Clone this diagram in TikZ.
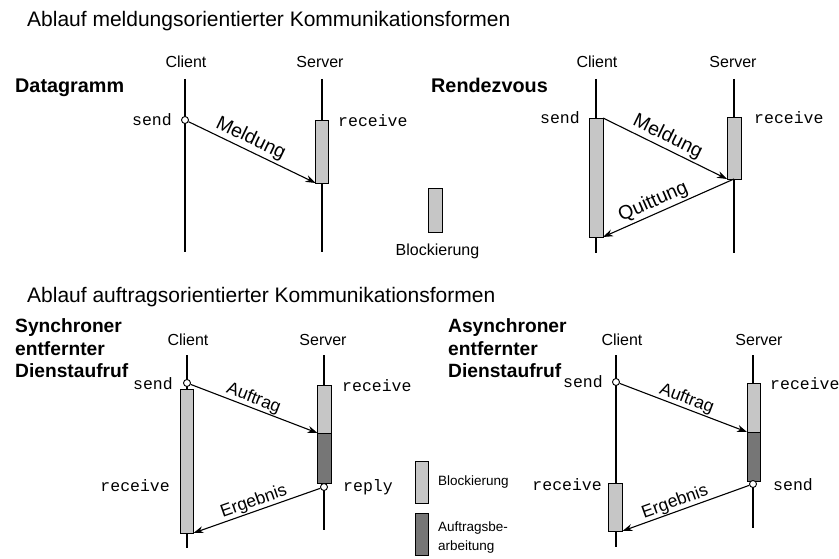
\documentclass[tikz,border=0pt]{standalone}
\usepackage{fontspec}
\setmainfont{Liberation Sans}
\setmonofont{Liberation Mono}
\usetikzlibrary{arrows.meta}
\definecolor{blockfill}{RGB}{198,198,198}
\definecolor{workfill}{RGB}{118,118,118}

\begin{document}
\begin{tikzpicture}[x=1pt,y=-1pt,
  life/.style={line width=1.4pt},
  msg/.style={line width=1.1pt,-{Stealth[length=10pt,width=7pt]}},
  title/.style={font=\fontsize{21}{24}\selectfont,inner sep=0,anchor=base west},
  head/.style={font=\fontsize{19.8}{22.5}\selectfont\bfseries,align=left,inner sep=0},
  headlow/.style={head,font=\fontsize{19.2}{22.5}\selectfont\bfseries},
  role/.style={font=\fontsize{16}{18}\selectfont,inner sep=0,anchor=base},
  mono/.style={font=\fontsize{16.5}{18}\selectfont\ttfamily,inner sep=0},
  blk/.style={draw,line width=0.9pt,fill=blockfill,inner sep=0,outer sep=0},
  work/.style={blk,fill=workfill},
  port/.style={circle,draw,fill=white,line width=0.9pt,minimum size=7pt,inner sep=0},
  tagbig/.style={sloped,above,inner sep=2pt,font=\fontsize{19.5}{22}\selectfont},
  tagsmall/.style={sloped,above,inner sep=0.5pt,font=\fontsize{17.5}{20}\selectfont},
  legend/.style={font=\fontsize{13.5}{19}\selectfont,align=left,inner sep=0}
]
\useasboundingbox (0,0) rectangle (839,559);

% ---------- section titles ----------
\node[title] (t1) at (27,27) {Ablauf meldungsorientierter Kommunikationsformen};
\node[title] (t2) at (27,302) {Ablauf auftragsorientierter Kommunikationsformen};

% ---------- Datagramm ----------
\node[head,anchor=base west] (dhead) at (15,93) {Datagramm};
\coordinate (dc1) at (185,79);  \coordinate (dc2) at (185,252);
\coordinate (ds1) at (322,79);  \coordinate (ds2) at (322,252);
\draw[life] (dc1) -- (dc2);
\draw[life] (ds1) -- (ds2);
\node[role] (dcl) at (186,68) {Client};
\node[role] (dsl) at (320,68) {Server};
\node[port] (dsnd) at (185,120) {};
\node[blk,minimum width=13pt,minimum height=63pt] (dsb) at (322,151.5) {};
\node[mono,anchor=base east] (dsndt) at (172,126) {send};
\node[mono,anchor=base west] (drcvt) at (338,127) {receive};
\draw[msg] (dsnd) -- (dsb.south west) node[tagbig,pos=0.45] {Meldung};

% ---------- Rendezvous ----------
\node[head,anchor=base west] (rhead) at (431,93) {Rendezvous};
\coordinate (rc1) at (596,79);  \coordinate (rc2) at (596,253);
\coordinate (rs1) at (734,79);  \coordinate (rs2) at (734,253);
\draw[life] (rc1) -- (rc2);
\draw[life] (rs1) -- (rs2);
\node[role] (rcl) at (597,68) {Client};
\node[role] (rsl) at (733,68) {Server};
\node[blk,minimum width=14pt,minimum height=119pt] (rcb) at (596,177.5) {};
\node[blk,minimum width=14pt,minimum height=62pt] (rsb) at (734,148) {};
\node[mono,anchor=base east] (rsndt) at (580,123.5) {send};
\node[mono,anchor=base west] (rrcvt) at (754,124) {receive};
\draw[msg] (rcb.north east) -- (rsb.south west) node[tagbig,pos=0.48] {Meldung};
\draw[msg] (rsb.south) -- (rcb.south east) node[tagbig,pos=0.58] {Quittung};

% ---------- legend (upper) ----------
\node[blk,minimum width=14pt,minimum height=44pt] (lgb) at (435,210) {};
\node[role] (lgt) at (437.5,255) {Blockierung};

% ---------- Synchroner entfernter Dienstaufruf ----------
\node[headlow,anchor=north west] (shead) at (15,318.5) {Synchroner\\entfernter\\Dienstaufruf};
\coordinate (sc1) at (187,355);  \coordinate (sc2) at (187,548);
\coordinate (ss1) at (324,355);  \coordinate (ss2) at (324,530);
\draw[life] (sc1) -- (sc2);
\draw[life] (ss1) -- (ss2);
\node[role] (scl) at (188,345) {Client};
\node[role] (ssl) at (323,345) {Server};
\node[blk,minimum width=13pt,minimum height=144pt] (scb) at (187,461) {};
\node[blk,minimum width=14pt,minimum height=48pt] (ssbu) at (324.5,409) {};
\node[work,minimum width=14pt,minimum height=50pt] (ssbl) at (324.5,458) {};
\node[port] (ssnd) at (187,383) {};
\node[port] (srep) at (324,487) {};
\node[mono,anchor=base east] (ssndt) at (173,389) {send};
\node[mono,anchor=base west] (srcvt) at (342,391) {receive};
\node[mono,anchor=base west] (srept) at (343,491) {reply};
\node[mono,anchor=base east] (scrvt) at (170,491) {receive};
\draw[msg] (ssnd) -- (ssbu.south west) node[tagsmall,pos=0.47] {Auftrag};
\draw[msg] (srep) -- (scb.south east) node[tagsmall,midway] {Ergebnis};

% ---------- legend (lower) ----------
\node[blk,minimum width=13pt,minimum height=42pt] (lb1) at (421.5,482) {};
\node[work,minimum width=13pt,minimum height=42pt] (lb2) at (421.5,534) {};
\node[legend,anchor=west] (lt1) at (438,482) {Blockierung};
\node[legend,anchor=west] (lt2) at (438,537.5) {Auftragsbe-\\arbeitung};

% ---------- Asynchroner entfernter Dienstaufruf ----------
\node[headlow,anchor=north west] (ahead) at (448,318.5) {Asynchroner\\entfernter\\Dienstaufruf};
\coordinate (ac1) at (616,355);  \coordinate (ac2) at (616,547);
\coordinate (as1) at (753,355);  \coordinate (as2) at (753,528);
\draw[life] (ac1) -- (ac2);
\draw[life] (as1) -- (as2);
\node[role] (acl) at (622,345) {Client};
\node[role] (asl) at (759,345) {Server};
\node[blk,minimum width=13pt,minimum height=49pt] (asbu) at (753.5,407.5) {};
\node[work,minimum width=13pt,minimum height=49pt] (asbl) at (753.5,456.5) {};
\node[blk,minimum width=14pt,minimum height=48pt] (acb) at (615.5,507) {};
\node[port] (asnd) at (616,382) {};
\node[port] (arep) at (753,484) {};
\node[mono,anchor=base east] (asndt) at (603,387) {send};
\node[mono,anchor=base west] (arcvt) at (770,389) {receive};
\node[mono,anchor=base west] (arept) at (773,490) {send};
\node[mono,anchor=base east] (acrvt) at (602,490) {receive};
\draw[msg] (asnd) -- (asbu.south west) node[tagsmall,midway] {Auftrag};
\draw[msg] (arep) -- (acb.south east) node[tagsmall,pos=0.56] {Ergebnis};
\end{tikzpicture}
\end{document}
